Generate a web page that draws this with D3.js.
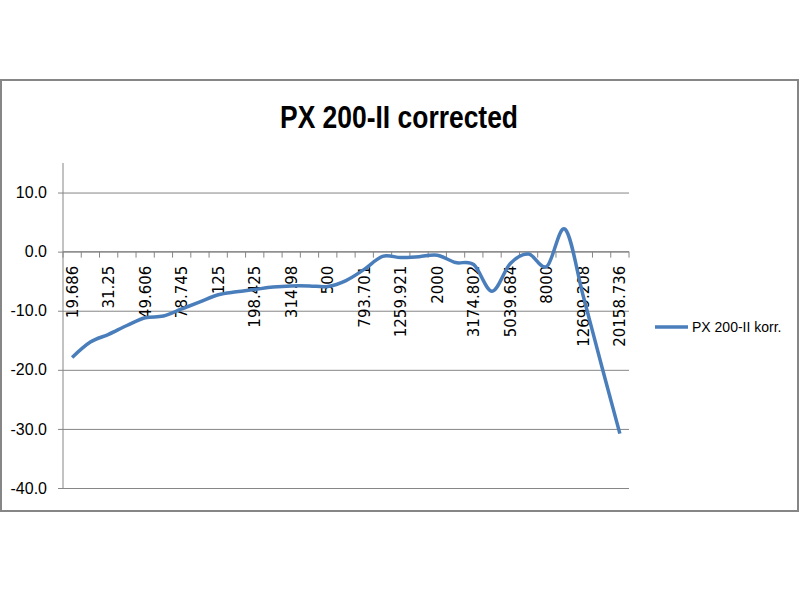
<!DOCTYPE html>
<html>
<head>
<meta charset="utf-8">
<script src="https://cdn.jsdelivr.net/npm/d3@7"></script>
<style>
  body { margin: 0; background: #fff; }
  svg { display: block; }
</style>
</head>
<body>
<script>
// third-octave frequencies (only every second one is labelled on the axis)
var freqs = ['19.686', '24.803', '31.25', '39.373', '49.606', '62.5', '78.745', '99.213',
             '125', '157.49', '198.425', '250', '314.98', '396.85', '500', '629.961',
             '793.701', '1000', '1259.921', '1587.401', '2000', '2519.842', '3174.802', '4000',
             '5039.684', '6349.604', '8000', '10079.368', '12699.208', '16000', '20158.736'];

var korr = [-17.9, -15.3, -14.0, -12.5, -11.2, -10.9, -9.7, -8.5,
            -7.3, -6.8, -6.4, -6.0, -5.8, -5.8, -5.9, -4.9,
            -3.0, -0.8, -1.0, -0.85, -0.6, -1.85, -2.2, -6.7,
            -2.0, -0.4, -2.5, 3.8, -7.6, -19.3, -30.8];

var yTicks = [10, 0, -10, -20, -30, -40];

var seriesName = 'PX 200-II korr.',
    title      = 'PX 200-II corrected';

var
  width   = 800,
  height  = 600,
  pLeft   = 63,
  pRight  = 629,
  pTop    = 163,
  pBottom = 488,
  grey    = '#868686',
  blue    = '#4a7ebb',
  x       = d3.scaleBand()
               .domain(d3.range(freqs.length))
               .range([pLeft, pRight]),
  y       = d3.scaleLinear()
               .domain([-40, 15])
               .range([pBottom, pTop]),
  line    = d3.line()
               .x(function(d, i) { return x(i) + x.bandwidth() / 2 })
               .y(function(d) { return y(d) })
               .curve(d3.curveCardinal.tension(0)),
  svg     = d3.select('body')
               .append('svg')
               .attr('width', width)
               .attr('height', height)
               .attr('viewBox', [0, 0, width, height].join(' '));

svg.append('rect')
    .attr('width', width)
    .attr('height', height)
    .attr('fill', '#fff');

// chart frame
svg.append('rect')
    .attr('x', 1)
    .attr('y', 80)
    .attr('width', 797)
    .attr('height', 431)
    .attr('fill', 'none')
    .attr('stroke', grey)
    .attr('stroke-width', 2);

// no narrow font installed, so squeeze the bold title to the reference width
svg.append('text')
    .attr('x', 399)
    .attr('y', 128)
    .attr('text-anchor', 'middle')
    .attr('textLength', 238)
    .attr('lengthAdjust', 'spacingAndGlyphs')
    .style('font-family', '"Liberation Sans", Arial, sans-serif')
    .style('font-weight', 'bold')
    .style('font-size', '32px')
    .text(title);

// value axis with gridlines
var yAxis = d3.axisLeft(y)
    .tickValues(yTicks)
    .tickSize(-(pRight - pLeft))
    .tickFormat(d3.format('.1f'));

var gy = svg.append('g')
    .attr('transform', 'translate(' + pLeft + ',0)')
    .call(yAxis);

gy.select('.domain').remove();
gy.selectAll('.tick line')
    .attr('x1', -5)
    .attr('stroke', grey);
gy.selectAll('.tick text')
    .attr('x', -16)
    .style('font-family', '"Liberation Sans", Arial, sans-serif')
    .style('font-size', '16px')
    .attr('fill', '#000')
    .text(function(d) { return d3.format('.1f')(d).replace('−', '-') });

svg.append('line')
    .attr('x1', pLeft).attr('x2', pLeft)
    .attr('y1', pTop).attr('y2', pBottom)
    .attr('stroke', grey);

// category axis crossing at 0
var gx = svg.append('g')
    .attr('transform', 'translate(0,' + y(0) + ')');

gx.append('line')
    .attr('x1', pLeft).attr('x2', pRight)
    .attr('stroke', grey);

gx.selectAll('.cat-tick')
    .data(d3.range(freqs.length + 1))
    .enter()
    .append('line')
    .attr('class', 'cat-tick')
    .attr('x1', function(i) { return pLeft + i * x.step() })
    .attr('x2', function(i) { return pLeft + i * x.step() })
    .attr('y1', 0)
    .attr('y2', 6)
    .attr('stroke', grey);

gx.selectAll('.cat-label')
    .data(freqs.filter(function(f, i) { return i % 2 === 0 }))
    .enter()
    .append('text')
    .attr('class', 'cat-label')
    .attr('transform', function(f) {
      return 'translate(' + (x(freqs.indexOf(f)) + x.bandwidth() / 2) + ',14) rotate(-90)'
    })
    .attr('text-anchor', 'end')
    .attr('dy', '0.36em')
    .style('font-family', '"DejaVu Sans", sans-serif')
    .style('font-size', '15px')
    .text(function(f) { return f });

// series
svg.append('path')
    .datum(korr)
    .attr('d', line)
    .attr('fill', 'none')
    .attr('stroke', blue)
    .attr('stroke-width', 3.5)
    .attr('stroke-linejoin', 'round');

// legend
var legend = svg.append('g')
    .attr('transform', 'translate(655,327)');

legend.append('line')
    .attr('x1', 0).attr('x2', 33)
    .attr('stroke', blue)
    .attr('stroke-width', 3.5);

legend.append('text')
    .attr('x', 37)
    .attr('dy', '0.35em')
    .style('font-family', '"Liberation Sans", Arial, sans-serif')
    .style('font-size', '14px')
    .text(seriesName);
</script>
</body>
</html>
